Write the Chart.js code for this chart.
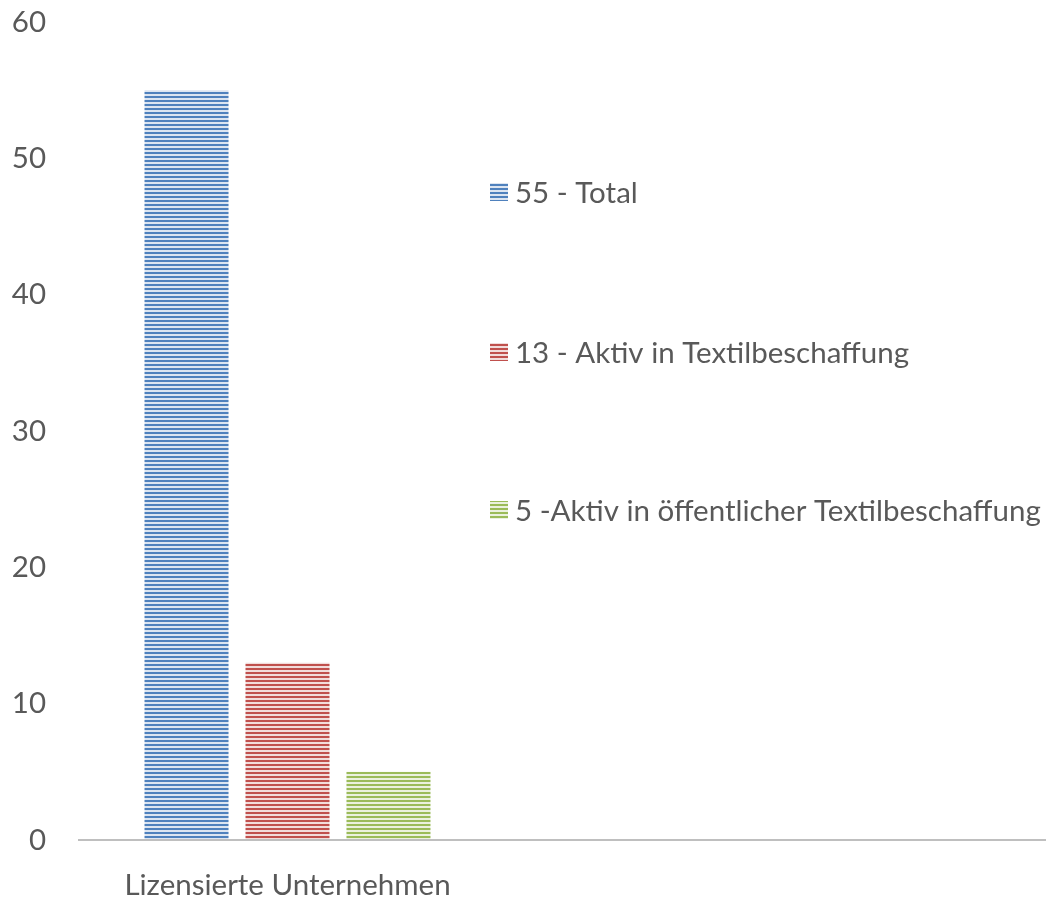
<!DOCTYPE html>
<html>
<head>
<meta charset="utf-8">
<script src="https://cdn.jsdelivr.net/npm/chart.js@4.4.1/dist/chart.umd.min.js"></script>
<style>
  html, body { margin: 0; padding: 0; background: #fff; overflow: hidden; }
  canvas { display: block; }
</style>
</head>
<body>
<canvas id="grafico" width="1046" height="898"></canvas>
<script>
const kategorien = ['Lizensierte Unternehmen'];
const serienNamen = ['55 - Total', '13 - Aktiv in Textilbeschaffung', '5 -Aktiv in öffentlicher Textilbeschaffung'];
const werteTotal = [55];
const werteTextil = [13];
const werteOeffentlich = [5];
const yTicks = [0, 10, 20, 30, 40, 50, 60];

const schrift = 'Lato, "Open Sans", sans-serif';
const textFarbe = '#595959';
const groesse = 29.5;

// Streifenmuster wie im Original (horizontale Linien)
function streifen(farbe, hell) {
    const c = document.createElement('canvas');
    c.width = 4; c.height = 4;
    const g = c.getContext('2d');
    g.fillStyle = hell;
    g.fillRect(0, 0, 4, 4);
    g.fillStyle = farbe;
    g.fillRect(0, 0, 4, 2);
    return g.createPattern(c, 'repeat');
}

const musterBlau = streifen('#4F81BD', '#DCE5F1');
const musterRot = streifen('#C0504D', '#F2DCDB');
const musterGruen = streifen('#9BBB59', '#EBF1DE');

// Achsenlinie bis zum rechten Rand verlaengern
const achsenLinie = {
    id: 'achsenLinie',
    afterDraw(chart) {
        const ctx = chart.ctx;
        const y = chart.scales.y.getPixelForValue(0);
        ctx.save();
        ctx.strokeStyle = '#BFBFBF';
        ctx.lineWidth = 2;
        ctx.beginPath();
        ctx.moveTo(chart.chartArea.left, y);
        ctx.lineTo(chart.width, y);
        ctx.stroke();
        ctx.restore();
    }
};

// Legende rechts neben dem Diagramm
const eigeneLegende = {
    id: 'eigeneLegende',
    afterDraw(chart) {
        const ctx = chart.ctx;
        const zeilen = [192, 352, 510];
        ctx.save();
        ctx.font = groesse + 'px ' + schrift;
        ctx.textBaseline = 'middle';
        chart.data.datasets.forEach((ds, i) => {
            const y = zeilen[i];
            ctx.fillStyle = ds.backgroundColor;
            ctx.fillRect(490, y - 9, 18, 18);
            ctx.fillStyle = textFarbe;
            ctx.fillText(ds.label, 515, y + 1);
        });
        ctx.restore();
    }
};

new Chart(document.getElementById('grafico'), {
    type: 'bar',
    data: {
        labels: kategorien,
        datasets: [
            { label: serienNamen[0], data: werteTotal, backgroundColor: musterBlau },
            { label: serienNamen[1], data: werteTextil, backgroundColor: musterRot },
            { label: serienNamen[2], data: werteOeffentlich, backgroundColor: musterGruen }
        ]
    },
    options: {
        responsive: false,
        animation: false,
        layout: { padding: { top: 22, right: 549, bottom: 0, left: 0 } },
        datasets: {
            bar: { categoryPercentage: 0.723, barPercentage: 0.832 }
        },
        scales: {
            x: {
                grid: { display: false, drawTicks: false },
                border: { display: false },
                afterFit(scale) { scale.height = 58; },
                ticks: {
                    color: textFarbe,
                    padding: 31,
                    font: { family: schrift, size: groesse, lineHeight: 1 }
                }
            },
            y: {
                min: 0,
                max: 60,
                afterFit(scale) {
                    scale.width = 78;
                    scale.paddingTop = 0;
                    scale.paddingBottom = 0;
                },
                afterBuildTicks(scale) { scale.ticks = yTicks.map(v => ({ value: v })); },
                grid: { display: false, drawTicks: false },
                border: { display: false },
                ticks: {
                    color: textFarbe,
                    padding: 32,
                    font: { family: schrift, size: groesse }
                }
            }
        },
        plugins: {
            legend: { display: false },
            tooltip: { enabled: false }
        }
    },
    plugins: [achsenLinie, eigeneLegende]
});
</script>
</body>
</html>
